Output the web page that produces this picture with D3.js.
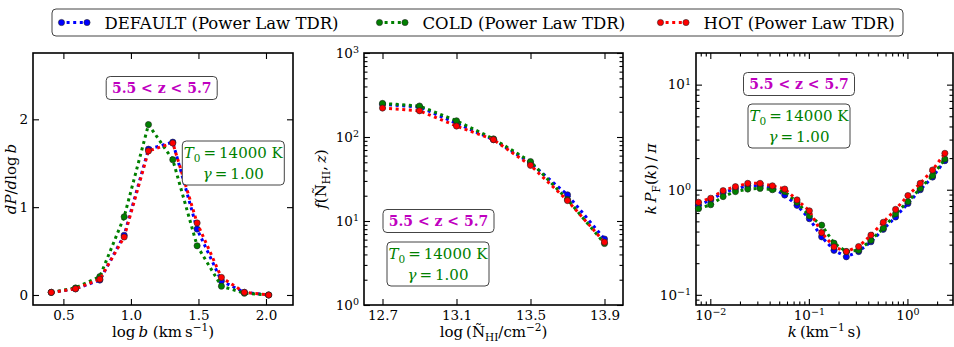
<!DOCTYPE html>
<html lang="en">
<head>
<meta charset="UTF-8">
<title>Power Law TDR comparison, 5.5 &lt; z &lt; 5.7</title>
<script src="https://d3js.org/d3.v7.min.js"></script>
<style>
  body, html { margin: 0; padding: 0; background: #fff; }
  text { font-family: "DejaVu Serif", serif; fill: #000; }
  .tick text { font-size: 13.5px; }
  .tick line { stroke: #000; stroke-width: 1.1; }
  .frame { fill: none; stroke: #000; stroke-width: 1.6; }
</style>
</head>
<body>
<svg id="chart" width="954" height="347"></svg>
<script>
// --- data ---
const seriesNames = ["DEFAULT (Power Law TDR)", "COLD (Power Law TDR)", "HOT (Power Law TDR)"];
const seriesColors = ["#0000ff", "#008000", "#ff0000"];

// b-parameter distribution (log b)
const logB = [0.41, 0.59, 0.77, 0.95, 1.13, 1.31, 1.49, 1.67, 1.84, 2.02];
const bDefault = [0.03, 0.07, 0.17, 0.68, 1.66, 1.74, 0.75, 0.16, 0.03, 0.0];
const bCold    = [0.03, 0.08, 0.21, 0.89, 1.94, 1.54, 0.56, 0.10, 0.02, 0.0];
const bHot     = [0.03, 0.07, 0.18, 0.66, 1.64, 1.73, 0.82, 0.20, 0.03, 0.0];

// column density distribution
const logN = [12.7, 12.9, 13.1, 13.3, 13.5, 13.7, 13.9];
const nDefault = [245, 228, 145, 93, 49, 20.5, 6.1];
const nCold    = [251, 234, 156, 95, 51, 18, 5.4];
const nHot     = [221, 205, 135, 93, 46, 17.5, 5.6];

// flux power spectrum
const kVals = [0.00759, 0.0101, 0.01349, 0.01799, 0.02399, 0.03199, 0.04266, 0.05689, 0.07586,
               0.1012, 0.1349, 0.1799, 0.2399, 0.3199, 0.4266, 0.5689, 0.7586, 1.012, 1.349, 1.799, 2.399];
const pDefault = [0.71, 0.80, 0.94, 1.02, 1.09, 1.09, 1.04, 0.89, 0.71, 0.53, 0.356, 0.265, 0.23,
                  0.258, 0.32, 0.42, 0.55, 0.74, 1.0, 1.32, 1.89];
const pCold    = [0.66, 0.72, 0.86, 0.96, 1.015, 1.03, 1.0, 0.96, 0.76, 0.565, 0.46, 0.31, 0.258,
                  0.265, 0.33, 0.43, 0.59, 0.77, 1.03, 1.36, 1.96];
const pHot     = [0.76, 0.83, 0.98, 1.07, 1.15, 1.15, 1.09, 1.015, 0.80, 0.63, 0.39, 0.286, 0.258,
                  0.288, 0.37, 0.49, 0.65, 0.88, 1.15, 1.54, 2.22];

const bTicks = [0.5, 1.0, 1.5, 2.0];
const bYTicks = [0, 1, 2];
const nTicks = [12.7, 13.1, 13.5, 13.9];
const nYTicks = [1, 10, 100, 1000];
const kTicks = [0.01, 0.1, 1];
const pYTicks = [0.1, 1, 10];

const zLabel = "5.5 < z < 5.7";

const svg = d3.select("#chart");
const top0 = 53, bot0 = 305;

// small helper for mixed italic / sub / sup text
function rich(sel, parts, size) {
  let shift = 0;
  parts.forEach(p => {
    const o = typeof p === "string" ? { t: p } : p;
    const target = o.s === "sup" ? -size * 0.42 : o.s === "sub" ? size * 0.25 : 0;
    const ts = sel.append("tspan").text(o.t)
      .attr("dy", target - shift)
      .attr("font-size", o.s ? size * 0.7 : size);
    if (o.i) ts.attr("font-style", "italic");
    shift = target;
  });
}

function logMinors(lo, hi) {
  const out = [];
  for (let e = Math.floor(Math.log10(lo)) - 1; e <= Math.ceil(Math.log10(hi)); e++)
    for (let m = 2; m <= 9; m++) {
      const v = m * Math.pow(10, e);
      if (v > lo && v < hi) out.push(v);
    }
  return out;
}

function powLabels(g) {
  g.selectAll(".tick text").each(function (d) {
    const e = Math.round(Math.log10(d));
    const t = d3.select(this).text(null);
    t.append("tspan").text("10");
    t.append("tspan").attr("dy", "-0.5em").attr("font-size", "9.5px")
      .text(e < 0 ? "\u2212" + (-e) : e);
  });
}

function drawPanel(cfg) {
  const g = svg.append("g");
  const x = cfg.x.range([cfg.x0, cfg.x1]);
  const y = cfg.y.range([bot0, top0]);

  const axes = [
    [d3.axisBottom(x), `translate(0,${bot0})`, cfg.xTicks, cfg.xMinor, true, cfg.xLog, cfg.fmtX],
    [d3.axisTop(x), `translate(0,${top0})`, cfg.xTicks, cfg.xMinor, false, cfg.xLog, null],
    [d3.axisLeft(y), `translate(${cfg.x0},0)`, cfg.yTicks, cfg.yMinor, true, cfg.yLog, cfg.fmtY],
    [d3.axisRight(y), `translate(${cfg.x1},0)`, cfg.yTicks, cfg.yMinor, false, cfg.yLog, null]
  ];
  axes.forEach(([ax, tr, ticks, minor, lab, isLog, fmt]) => {
    if (minor) {
      g.append("g").attr("transform", tr)
        .call(ax.tickValues(minor).tickSize(-3.5).tickFormat(""))
        .call(a => a.select(".domain").remove());
    }
    const a = g.append("g").attr("transform", tr)
      .call(ax.tickValues(ticks).tickSize(-6).tickPadding(5)
        .tickFormat(lab ? (isLog ? () => "" : fmt) : ""));
    a.select(".domain").remove();
    if (lab && isLog) powLabels(a);
  });

  g.append("rect").attr("class", "frame")
    .attr("x", cfg.x0).attr("y", top0)
    .attr("width", cfg.x1 - cfg.x0).attr("height", bot0 - top0);

  const line = d3.line().x(d => x(d[0])).y(d => y(d[1]));
  cfg.series.forEach((vals, i) => {
    const pts = cfg.xs.map((v, j) => [v, vals[j]]);
    g.append("path").datum(pts).attr("d", line)
      .attr("fill", "none").attr("stroke", seriesColors[i])
      .attr("stroke-width", 3).attr("stroke-dasharray", "3,3.6");
    g.selectAll(null).data(pts).enter().append("circle")
      .attr("cx", d => x(d[0])).attr("cy", d => y(d[1])).attr("r", 3.1)
      .attr("fill", seriesColors[i]).attr("stroke", "#222").attr("stroke-width", 0.6);
  });

  // axis titles
  const cx = (cfg.x0 + cfg.x1) / 2;
  rich(g.append("text").attr("x", cx).attr("y", 337).attr("text-anchor", "middle"), cfg.xLabel, 15);
  rich(g.append("text").attr("text-anchor", "middle")
    .attr("transform", `translate(${cfg.yLabelX},${(top0 + bot0) / 2}) rotate(-90)`), cfg.yLabel, 15);

  // annotation boxes
  const zb = g.append("g").attr("transform", `translate(${cfg.zBox[0]},${cfg.zBox[1]})`);
  zb.append("rect").attr("x", -55.5).attr("y", -11.5).attr("width", 111).attr("height", 23)
    .attr("rx", 4).attr("fill", "#fff").attr("stroke", "#444").attr("stroke-width", 1);
  zb.append("text").attr("text-anchor", "middle").attr("y", 5).attr("font-size", 14)
    .attr("font-weight", "bold").style("fill", "#bf00bf").text(zLabel);

  const tb = g.append("g").attr("transform", `translate(${cfg.tBox[0]},${cfg.tBox[1]})`);
  tb.append("rect").attr("x", -51).attr("y", -22).attr("width", 102).attr("height", 44)
    .attr("rx", 4).attr("fill", "#fff").attr("stroke", "#444").attr("stroke-width", 1);
  rich(tb.append("text").attr("text-anchor", "middle").attr("y", -5).style("fill", "#008000"),
    [{ t: "T", i: true }, { t: "0", s: "sub" }, "\u2009=\u200914000 K"], 15);
  rich(tb.append("text").attr("text-anchor", "middle").attr("y", 16).style("fill", "#008000"),
    [{ t: "\u03b3", i: true }, "\u2009=\u20091.00"], 15);
}

drawPanel({
  x0: 33, x1: 293,
  x: d3.scaleLinear().domain([0.275, 2.2]),
  y: d3.scaleLinear().domain([-0.114, 2.755]),
  xTicks: bTicks, yTicks: bYTicks, fmtX: d3.format(".1f"), fmtY: d3.format("d"),
  xs: logB, series: [bDefault, bCold, bHot],
  xLabel: ["log\u2009", { t: "b", i: true }, " (km\u2009s", { t: "\u22121", s: "sup" }, ")"],
  yLabel: [{ t: "dP", i: true }, "/", { t: "d", i: true }, "log\u2009", { t: "b", i: true }],
  yLabelX: 16,
  zBox: [161.7, 88], tBox: [233.3, 163]
});

drawPanel({
  x0: 364, x1: 623,
  x: d3.scaleLinear().domain([12.6, 14.0]),
  y: d3.scaleLog().domain([1, 1000]),
  xTicks: nTicks, yTicks: nYTicks, yMinor: logMinors(1, 1000), yLog: true, fmtX: d3.format(".1f"),
  xs: logN, series: [nDefault, nCold, nHot],
  xLabel: ["log\u2009(\u00d1", { t: "HI", s: "sub" }, "/cm", { t: "\u22122", s: "sup" }, ")"],
  yLabel: [{ t: "f", i: true }, "(\u00d1", { t: "HI", s: "sub" }, ",\u2009", { t: "z", i: true }, ")"],
  yLabelX: 326,
  zBox: [438.5, 221], tBox: [438, 264]
});

drawPanel({
  x0: 696, x1: 953,
  x: d3.scaleLog().domain([0.00716, 2.9]),
  y: d3.scaleLog().domain([0.08, 20]),
  xTicks: kTicks, yTicks: pYTicks, xMinor: logMinors(0.00716, 2.9), yMinor: logMinors(0.08, 20),
  xLog: true, yLog: true,
  xs: kVals, series: [pDefault, pCold, pHot],
  xLabel: [{ t: "k", i: true }, "\u2009(km", { t: "\u22121", s: "sup" }, "\u2009s)"],
  yLabel: [{ t: "k", i: true }, "\u2009", { t: "P", i: true }, { t: "F", s: "sub" }, "(", { t: "k", i: true }, ")\u2009/\u2009", { t: "\u03c0", i: true }],
  yLabelX: 656,
  zBox: [799, 84], tBox: [799, 126]
});

// legend
const leg = svg.append("g");
leg.append("rect").attr("x", 52).attr("y", 9).attr("width", 851).attr("height", 27)
  .attr("rx", 4).attr("fill", "#fff").attr("stroke", "#444").attr("stroke-width", 1);
const legX = [60, 378, 659];
seriesNames.forEach((name, i) => {
  const gx = leg.append("g").attr("transform", `translate(${legX[i]},22.5)`);
  gx.append("line").attr("x1", 0).attr("x2", 28).attr("stroke", seriesColors[i])
    .attr("stroke-width", 3).attr("stroke-dasharray", "3,3.6");
  [1.5, 27].forEach(cx => gx.append("circle").attr("cx", cx).attr("r", 3.1)
    .attr("fill", seriesColors[i]).attr("stroke", "#222").attr("stroke-width", 0.6));
  gx.append("text").attr("x", 44.5).attr("y", 6).attr("font-size", 16.5).text(name);
});
</script>
</body>
</html>
